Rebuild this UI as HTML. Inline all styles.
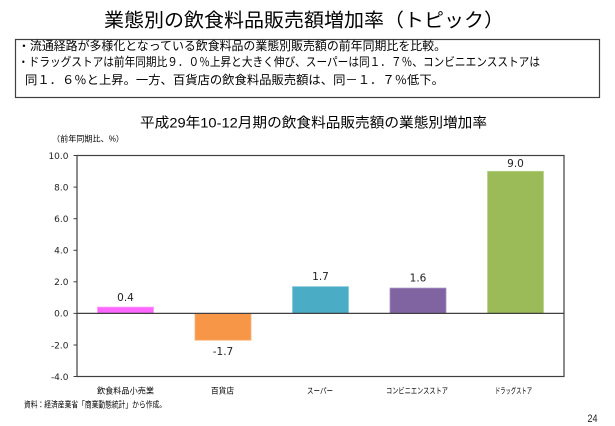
<!DOCTYPE html>
<html><head><meta charset="utf-8"><style>
html,body{margin:0;padding:0;background:#fff;}
svg{display:block;}
.jp{font-family:"Liberation Sans","Noto Sans CJK JP",sans-serif;fill:#000;}
.num{font-family:"DejaVu Sans","Liberation Sans",sans-serif;fill:#222;}
</style></head><body>
<svg width="615" height="426" viewBox="0 0 615 426" xmlns="http://www.w3.org/2000/svg">
<rect width="615" height="426" fill="#fff"/>
<!-- Title -->
<text class="jp" x="104" y="26.5" font-size="19" textLength="400" lengthAdjust="spacingAndGlyphs">業態別の飲食料品販売額増加率（トピック）</text>
<!-- Box -->
<rect x="15.5" y="39.5" width="584" height="58" fill="none" stroke="#404040" stroke-width="1.2"/>
<text class="jp" x="18" y="50" font-size="12" textLength="428" lengthAdjust="spacingAndGlyphs">・流通経路が多様化となっている飲食料品の業態別販売額の前年同期比を比較。</text>
<text class="jp" x="18" y="66" font-size="12" textLength="522" lengthAdjust="spacingAndGlyphs">・ドラッグストアは前年同期比９．０％上昇と大きく伸び、スーパーは同１．７％、コンビニエンスストアは</text>
<text class="jp" x="25" y="84" font-size="12" textLength="419" lengthAdjust="spacingAndGlyphs">同１．６％と上昇。一方、百貨店の飲食料品販売額は、同－１．７％低下。</text>
<!-- Chart title -->
<text class="jp" x="140" y="127.7" font-size="14" textLength="347" lengthAdjust="spacingAndGlyphs">平成29年10-12月期の飲食料品販売額の業態別増加率</text>
<text class="jp" x="52" y="141.5" font-size="8" textLength="72" lengthAdjust="spacingAndGlyphs" fill="#333">（前年同期比、%）</text>
<!-- Bars -->
<rect x="97.5" y="307.1" width="56" height="6.3" fill="#ff66ff" stroke="#ff99ff" stroke-width="0.8"/>
<rect x="195" y="313.4" width="56" height="26.8" fill="#f79646" stroke="#fab27c" stroke-width="0.8"/>
<rect x="292.5" y="286.6" width="56" height="26.8" fill="#4bacc6" stroke="#82c7da" stroke-width="0.8"/>
<rect x="390" y="288.1" width="56" height="25.3" fill="#8064a2" stroke="#a590bf" stroke-width="0.8"/>
<rect x="487.5" y="171.3" width="56" height="142.1" fill="#9bbb59" stroke="#bad48a" stroke-width="0.8"/>
<!-- Plot frame -->
<rect x="77" y="155.5" width="487" height="221" fill="none" stroke="#404040" stroke-width="1.2"/>
<line x1="77" y1="313.4" x2="564" y2="313.4" stroke="#404040" stroke-width="1.2"/>
<!-- y ticks -->
<g stroke="#404040" stroke-width="1">
<line x1="73.5" y1="155.5" x2="77" y2="155.5"/>
<line x1="73.5" y1="187.1" x2="77" y2="187.1"/>
<line x1="73.5" y1="218.7" x2="77" y2="218.7"/>
<line x1="73.5" y1="250.3" x2="77" y2="250.3"/>
<line x1="73.5" y1="281.8" x2="77" y2="281.8"/>
<line x1="73.5" y1="313.4" x2="77" y2="313.4"/>
<line x1="73.5" y1="345" x2="77" y2="345"/>
<line x1="73.5" y1="376.5" x2="77" y2="376.5"/>
</g>
<g class="num" font-size="9" text-anchor="end">
<text x="68.5" y="158.8">10.0</text>
<text x="68.5" y="190.4">8.0</text>
<text x="68.5" y="222">6.0</text>
<text x="68.5" y="253.6">4.0</text>
<text x="68.5" y="285.1">2.0</text>
<text x="68.5" y="316.7">0.0</text>
<text x="68.5" y="348.3">-2.0</text>
<text x="68.5" y="379.8">-4.0</text>
</g>
<!-- data labels -->
<g class="num" font-size="10.5" text-anchor="middle">
<text x="125.5" y="300.8">0.4</text>
<text x="223" y="355.2">-1.7</text>
<text x="320.5" y="280.2">1.7</text>
<text x="418" y="281.7">1.6</text>
<text x="515.5" y="167.2">9.0</text>
</g>
<!-- category labels -->
<g class="jp" font-size="8.2" fill="#222">
<text x="97" y="393.5" textLength="57" lengthAdjust="spacingAndGlyphs">飲食料品小売業</text>
<text x="211" y="393.5" textLength="23" lengthAdjust="spacingAndGlyphs">百貨店</text>
<text x="307" y="393.5" textLength="26" lengthAdjust="spacingAndGlyphs">スーパー</text>
<text x="386" y="393.5" textLength="62" lengthAdjust="spacingAndGlyphs">コンビニエンスストア</text>
<text x="495" y="393.5" textLength="37" lengthAdjust="spacingAndGlyphs">ドラッグストア</text>
</g>
<!-- footer -->
<text class="jp" x="24" y="407.3" font-size="8.5" textLength="142" lengthAdjust="spacingAndGlyphs" fill="#222">資料：経済産業省「商業動態統計」から作成。</text>
<text x="587.5" y="422" font-family="Liberation Sans, sans-serif" font-size="11" textLength="10" lengthAdjust="spacingAndGlyphs" fill="#222">24</text>
</svg>
</body></html>
